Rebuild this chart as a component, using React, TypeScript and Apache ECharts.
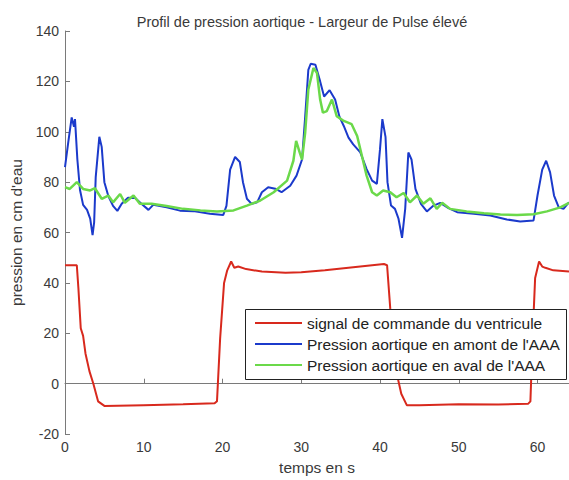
import React, { useEffect, useRef } from "react";
import * as echarts from "echarts";

const titleText = "Profil de pression aortique - Largeur de Pulse élevé";
const xName = "temps en s";
const yName = "pression en cm d'eau";
const seriesNames = [
  "signal de commande du ventricule",
  "Pression aortique en amont de l'AAA",
  "Pression aortique en aval de l'AAA",
];

const tRed = [0, 1.5, 1.7, 2.0, 2.3, 2.6, 3.1, 3.6, 4.2, 5, 10, 15, 19, 19.3, 19.7, 20.2, 20.6, 21.1, 21.5, 22, 23, 25, 28, 30, 33, 36, 39, 40.5, 40.9, 41.3, 41.8, 42.2, 42.7, 43.4, 45, 50, 55, 58.8, 59.1, 59.4, 59.7, 60.2, 60.6, 61, 62, 64];
const vRed = [47, 47, 38, 22, 19, 12, 5, 0, -7, -8.8, -8.5, -8.2, -7.8, -7, 18, 40, 45, 48.5, 46, 46.5, 45.5, 44.5, 44, 44.2, 45, 46, 47, 47.5, 47, 30, 15, 3, -4, -8.5, -8.5, -8.2, -8.3, -8, -7, 20, 42, 48.5, 46.5, 46, 45, 44.5];

const tBlue = [0, 0.42, 0.85, 1.14, 1.27, 1.57, 1.9, 2.3, 2.8, 3.2, 3.5, 3.7, 3.9, 4.36, 4.66, 5.0, 5.5, 6.1, 6.65, 7.2, 8.0, 8.9, 9.7, 10.6, 11.2, 12.9, 14.6, 16.3, 18.4, 20.1, 20.5, 20.97, 21.6, 22.2, 22.6, 23.1, 23.7, 24.4, 25, 25.8, 26.7, 27.5, 28.6, 29.4, 30.1, 30.5, 30.9, 31.2, 31.8, 32.4, 32.9, 33.6, 34.3, 34.85, 35.4, 36, 36.6, 37.5, 38.3, 39, 39.6, 40, 40.3, 40.7, 40.95, 41.4, 41.9, 42.35, 42.8, 43.2, 43.6, 44, 44.5, 45.2, 45.95, 46.8, 47.65, 48.7, 49.8, 51.9, 54, 56.1, 57.8, 59.5, 60, 60.6, 61.1, 61.6, 62.1, 62.7, 63.3, 64];
const vBlue = [86, 96, 105.7, 102, 105, 89, 77, 71, 69, 65.5, 59, 64, 82, 98, 94, 80, 74.5, 70.6, 68.6, 71.4, 73.8, 73.7, 71.4, 69, 71, 70, 68.7, 68.5, 67.5, 67, 70.6, 85, 90, 88, 80, 73.4, 71.4, 72, 76, 78, 77.4, 76, 78.6, 82.6, 89, 106, 124.6, 127, 126.6, 120, 114, 116.5, 112.8, 106, 102.3, 97.7, 95, 91.8, 85.2, 80.6, 79.3, 93, 105, 98, 80, 70.7, 69.4, 65.5, 57.9, 69.4, 91.8, 89, 77.3, 71.4, 68.4, 70.7, 71.8, 69.7, 68.1, 67.5, 66.8, 65.2, 64.4, 64.8, 74.7, 85, 88.5, 83.9, 74.7, 70, 69.4, 72];

const tGreen = [0, 0.6, 1.5, 2.3, 3.2, 3.8, 4.66, 5.5, 6.1, 7, 7.6, 8.7, 9.5, 11, 12.9, 15, 17.2, 19.3, 21.4, 23.1, 24.8, 26.5, 28.2, 29, 29.35, 29.8, 30.1, 30.5, 30.9, 31.55, 32, 32.4, 32.75, 33.25, 33.9, 34.5, 35.4, 36.4, 37.1, 37.7, 38.3, 39, 39.6, 40.4, 41.3, 42.1, 43, 43.8, 44.7, 45.5, 46.4, 47.2, 47.9, 48.9, 51, 53.2, 55.3, 57.4, 59.5, 61.2, 62.9, 64];
const vGreen = [78, 77.3, 80, 77.3, 76.7, 77.6, 73.4, 74.7, 72, 75.3, 71.8, 74.7, 71.4, 71.4, 70.5, 69.4, 68.8, 68.4, 68.8, 70.7, 72.7, 76, 80.6, 88.5, 96.4, 91.8, 89, 99.7, 116.8, 125.3, 123.3, 112.8, 107.6, 108.2, 112.8, 106.2, 104.3, 103, 98.3, 90.5, 82.6, 76, 74.7, 76.7, 76, 74, 75.7, 72, 74.7, 71.4, 73.6, 69.4, 71.8, 69.4, 68.4, 67.7, 67.2, 67, 67.3, 68.4, 70, 71.8];

const colors = ["#d8291d", "#1b3acb", "#6bd94a"];

function pairs(t: number[], v: number[]) {
  return t.map((x, i) => [x, v[i]]);
}

export default function App() {
  const ref = useRef<HTMLDivElement>(null);
  useEffect(() => {
    if (!ref.current) return;
    const chart = echarts.init(ref.current, null, { renderer: "svg" });
    const font = "'Liberation Sans', Arial, sans-serif";
    const axisColor = "#7a7a7a";
    const textColor = "#3a3a3a";
    chart.setOption({
      animation: false,
      backgroundColor: "#ffffff",
      title: {
        text: titleText,
        left: 297,
        top: 9,
        textAlign: "center",
        textStyle: { fontFamily: font, fontSize: 14.5, fontWeight: "normal", color: textColor },
      },
      grid: { left: 65, top: 31, right: 0, bottom: 43, containLabel: false },
      xAxis: {
        type: "value",
        min: 0,
        max: 64,
        interval: 10,
        name: xName,
        nameLocation: "middle",
        nameGap: 23,
        nameTextStyle: { fontFamily: font, fontSize: 15.5, color: textColor },
        axisLine: { show: true, lineStyle: { color: axisColor, width: 1 } },
        axisTick: { show: true, inside: true, length: 5, lineStyle: { color: axisColor } },
        axisLabel: {
          fontFamily: font,
          fontSize: 14,
          color: textColor,
          margin: 6,
          showMaxLabel: false,
          formatter: (v: number) => (v % 10 === 0 ? String(v) : ""),
        },
        splitLine: { show: false },
      },
      yAxis: {
        type: "value",
        min: -20,
        max: 140,
        interval: 20,
        name: yName,
        nameLocation: "middle",
        nameGap: 35,
        nameRotate: 90,
        nameTextStyle: { fontFamily: font, fontSize: 15.5, color: textColor },
        axisLine: { show: true, lineStyle: { color: axisColor, width: 1 } },
        axisTick: { show: true, inside: true, length: 5, lineStyle: { color: axisColor } },
        axisLabel: { fontFamily: font, fontSize: 14, color: textColor, margin: 6 },
        splitLine: { show: false },
      },
      legend: {
        orient: "vertical",
        left: 249,
        top: 309,
        padding: [6, 8, 6, 6],
        itemWidth: 47,
        itemHeight: 2,
        itemGap: 5,
        icon: "rect",
        data: seriesNames,
        textStyle: { fontFamily: font, fontSize: 15.5, color: "#222222", lineHeight: 16 },
        z: 10,
      },
      graphic: [
        {
          type: "rect",
          z: 5,
          shape: { x: 245.5, y: 309.5, width: 321, height: 70 },
          style: { fill: "#ffffff", stroke: "#222222", lineWidth: 1 },
        },
      ],
      series: [
        { name: seriesNames[0], type: "line", data: pairs(tRed, vRed), symbol: "none", lineStyle: { color: colors[0], width: 2 }, itemStyle: { color: colors[0] }, z: 2 },
        { name: seriesNames[1], type: "line", data: pairs(tBlue, vBlue), symbol: "none", lineStyle: { color: colors[1], width: 2 }, itemStyle: { color: colors[1] }, z: 2 },
        { name: seriesNames[2], type: "line", data: pairs(tGreen, vGreen), symbol: "none", lineStyle: { color: colors[2], width: 2.5 }, itemStyle: { color: colors[2] }, z: 3 },
      ],
    });
    return () => chart.dispose();
  }, []);
  return <div ref={ref} style={{ position: "fixed", left: 0, top: 0, width: 569, height: 480 }} />;
}
